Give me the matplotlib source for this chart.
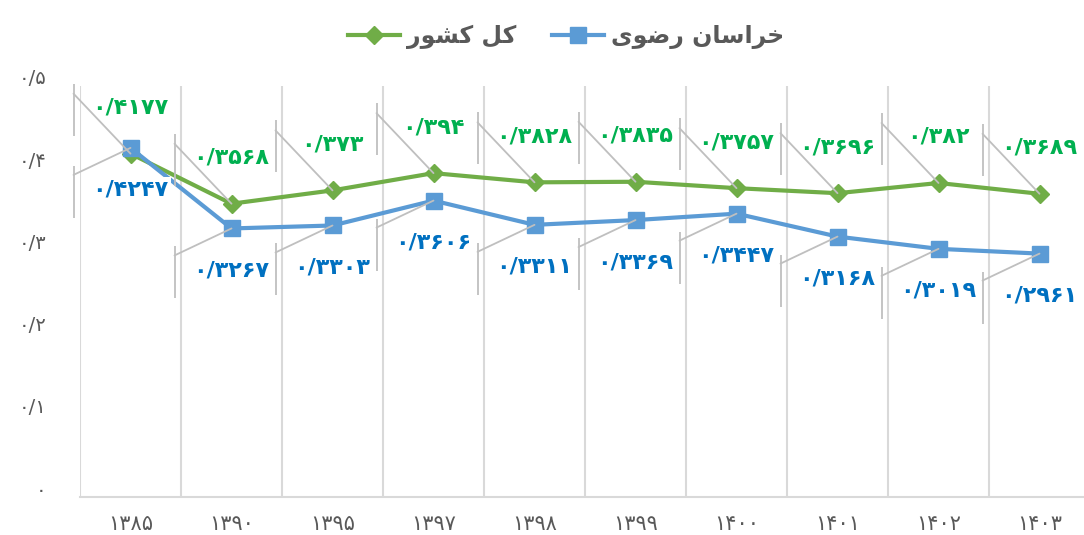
import matplotlib
matplotlib.use("Agg")
import matplotlib.pyplot as plt
import matplotlib.transforms as mtransforms

years = ["۱۳۸۵", "۱۳۹۰", "۱۳۹۵", "۱۳۹۷", "۱۳۹۸", "۱۳۹۹", "۱۴۰۰", "۱۴۰۱", "۱۴۰۲", "۱۴۰۳"]
country = [0.4177, 0.3568, 0.373, 0.394, 0.3828, 0.3835, 0.3757, 0.3696, 0.382, 0.3689]
khorasan = [0.4247, 0.3267, 0.3303, 0.3606, 0.3311, 0.3369, 0.3447, 0.3168, 0.3019, 0.2961]
y_ticks = [0, 0.1, 0.2, 0.3, 0.4, 0.5]
name_country = "کل کشور"
name_khorasan = "خراسان رضوی"

GREEN = "#70AD47"
BLUE = "#5B9BD5"
GREEN_TXT = "#00B050"
BLUE_TXT = "#0070C0"
GRID = "#D9D9D9"
LEADER = "#BFBFBF"

# matplotlib has no arabic shaping, so pick presentation forms by hand
FORMS = {
    "ک": "\uFB8E\uFB8F\uFB90\uFB91", "ل": "\uFEDD\uFEDE\uFEDF\uFEE0",
    "ش": "\uFEB5\uFEB6\uFEB7\uFEB8", "خ": "\uFEA5\uFEA6\uFEA7\uFEA8",
    "س": "\uFEB1\uFEB2\uFEB3\uFEB4", "ن": "\uFEE5\uFEE6\uFEE7\uFEE8",
    "ض": "\uFEBD\uFEBE\uFEBF\uFEC0", "ی": "\uFBFC\uFBFD\uFBFE\uFBFF",
    "و": "\uFEED\uFEEE", "ر": "\uFEAD\uFEAE", "ا": "\uFE8D\uFE8E",
}


def shape(text):
    out = []
    for k, ch in enumerate(text):
        if ch not in FORMS:
            out.append(ch)
            continue
        prev = text[k - 1] if k > 0 else " "
        nxt = text[k + 1] if k + 1 < len(text) else " "
        j_prev = prev in FORMS and len(FORMS[prev]) == 4
        j_next = nxt in FORMS and len(FORMS[ch]) == 4
        f = FORMS[ch]
        if j_prev and j_next:
            out.append(f[3])
        elif j_prev:
            out.append(f[1])
        elif j_next:
            out.append(f[2])
        else:
            out.append(f[0])
    return "".join(out)[::-1]


def fa(v):
    s = str(v).replace(".", "/")
    return "".join("۰۱۲۳۴۵۶۷۸۹"[int(c)] if c.isdigit() else c for c in s)


plt.rcParams["font.family"] = ["DejaVu Sans"]

fig = plt.figure(figsize=(10.84, 5.35), dpi=100)
ax = fig.add_axes([80 / 1084, 38 / 535, 1 - 80 / 1084, 411 / 535])

x = list(range(len(years)))
ax.plot(x, country, color=GREEN, lw=3, marker="D", ms=9, zorder=3, label=shape(name_country))
ax.plot(x, khorasan, color=BLUE, lw=3, marker="s", ms=12, zorder=3, label=shape(name_khorasan))

ax.set_xlim(-0.5, -0.5 + 1004 / 101)
ax.set_ylim(0, 0.5)
ax.set_xticks(x)
ax.set_xticklabels(years, fontsize=15, color="#595959")
ax.set_yticks(y_ticks)
ax.set_yticklabels([fa(t) if t else "۰" for t in y_ticks], fontsize=14, color="#595959")
ax.tick_params(axis="both", which="both", length=0)
ax.tick_params(axis="x", pad=12)
ax.tick_params(axis="y", pad=24)
lift = mtransforms.ScaledTranslation(0, 9 / 100, fig.dpi_scale_trans)
for lbl in ax.get_yticklabels():
    lbl.set_transform(lbl.get_transform() + lift)
ax.set_xticks([i - 0.5 for i in x], minor=True)
ax.grid(True, axis="x", which="minor", color=GRID, lw=1.5)
ax.grid(False, axis="x", which="major")
for s in ["top", "right", "left"]:
    ax.spines[s].set_visible(False)
ax.spines["bottom"].set_color(GRID)
ax.spines["bottom"].set_linewidth(1.5)


def callout(i, v, color, up):
    sign = 1 if up else -1
    ax.annotate(fa(v), xy=(i, v), xytext=(0, sign * (46 if up else 42)), textcoords="offset pixels",
                ha="center", va="center", fontsize=16, fontweight="bold", color=color, zorder=6,
                bbox=dict(fc="white", ec="none", pad=2))
    ax.annotate("", xy=(i, v), xytext=(-57, sign * (60 if up else 27)), textcoords="offset pixels",
                arrowprops=dict(arrowstyle="-", color=LEADER, lw=1.3, shrinkA=0, shrinkB=0), zorder=7)
    bar = mtransforms.offset_copy(ax.transData, fig=fig, x=-57, y=sign * 44, units="dots")
    ax.plot([i], [v], marker="|", ms=37, mew=1.3, color=LEADER, transform=bar, zorder=7, clip_on=False)


for i in x:
    callout(i, country[i], GREEN_TXT, True)
    callout(i, khorasan[i], BLUE_TXT, False)

fig.legend(loc="upper center", bbox_to_anchor=(0.522, 0.995), ncol=2, frameon=False,
           prop={"size": 17, "weight": "bold"}, labelcolor="#595959",
           handlelength=2.2, columnspacing=1.5, handletextpad=0.3)

fig.savefig("out.png", dpi=100)
